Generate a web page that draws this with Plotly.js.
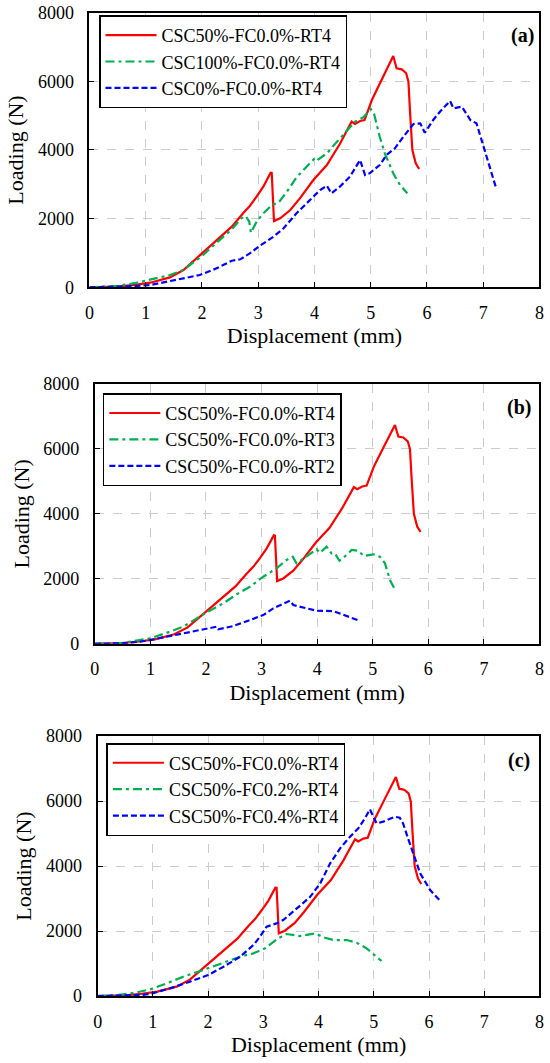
<!DOCTYPE html>
<html>
<head>
<meta charset="utf-8">
<script src="https://cdn.plot.ly/plotly-3.0.1.min.js"></script>
<style>html,body{margin:0;padding:0;background:#fff;}#chart{width:550px;height:1063px;}</style>
</head>
<body>
<div id="chart"></div>
<script>
// ---- Data ----
// Reference series CSC50%-FC0.0%-RT4 (appears in all three panels)
var refDisp = [0, 0.5, 0.8, 1.08, 1.43, 1.67, 2.0, 2.26, 2.53, 2.73, 2.85, 2.97, 3.09, 3.22, 3.24, 3.28, 3.39, 3.57, 3.74, 3.98, 4.22, 4.45, 4.66, 4.72, 4.81, 4.89, 5.02, 5.22, 5.40, 5.46, 5.55, 5.63, 5.67, 5.70, 5.74, 5.80, 5.86];
var refLoad = [0, 20, 70, 135, 290, 504, 990, 1378, 1766, 2155, 2368, 2639, 2930, 3338, 3330, 1931, 2010, 2252, 2592, 3125, 3562, 4174, 4824, 4757, 4844, 4870, 5456, 6135, 6737, 6379, 6350, 6234, 5990, 5068, 3999, 3612, 3446];

// Panel (a): CSC100%-FC0.0%-RT4
var aGreenDisp = [0, 0.5, 0.8, 1.08, 1.43, 1.67, 2.0, 2.26, 2.53, 2.70, 2.78, 2.84, 2.87, 2.97, 3.09, 3.24, 3.36, 3.51, 3.68, 3.86, 4.02, 4.07, 4.22, 4.40, 4.57, 4.72, 4.87, 5.0, 5.06, 5.16, 5.25, 5.40, 5.52, 5.65];
var aGreenLoad = [0, 40, 120, 233, 358, 504, 912, 1300, 1689, 2010, 2077, 1911, 1590, 1911, 2155, 2397, 2465, 2785, 3204, 3513, 3787, 3728, 3903, 4241, 4562, 4824, 4952, 5193, 5048, 4387, 3903, 3321, 2980, 2738];
// Panel (a): CSC0%-FC0.0%-RT4
var aBlueDisp = [0, 0.5, 0.8, 1.08, 1.55, 1.96, 2.26, 2.53, 2.68, 2.85, 3.03, 3.27, 3.45, 3.68, 3.92, 4.10, 4.22, 4.30, 4.45, 4.63, 4.81, 4.90, 4.98, 5.16, 5.28, 5.43, 5.58, 5.76, 5.88, 5.96, 6.11, 6.23, 6.41, 6.47, 6.62, 6.77, 6.88, 7.02, 7.14, 7.23];
var aBlueLoad = [0, 10, 35, 67, 233, 358, 553, 775, 816, 990, 1212, 1474, 1719, 2155, 2543, 2834, 2960, 2738, 2930, 3222, 3708, 3271, 3321, 3562, 3854, 4049, 4387, 4757, 4777, 4504, 4873, 5115, 5427, 5214, 5261, 4873, 4777, 4000, 3320, 2883];

// Panel (b): CSC50%-FC0.0%-RT3
var bGreenDisp = [0, 0.5, 0.8, 0.99, 1.35, 1.59, 1.98, 2.31, 2.58, 2.79, 3.03, 3.27, 3.45, 3.56, 3.63, 3.81, 3.99, 4.05, 4.17, 4.26, 4.32, 4.40, 4.53, 4.62, 4.74, 4.84, 5.01, 5.13, 5.22, 5.31, 5.41];
var bGreenLoad = [0, 30, 110, 166, 370, 524, 936, 1245, 1553, 1756, 2064, 2323, 2579, 2680, 2476, 2702, 2908, 2800, 2988, 2783, 2783, 2557, 2733, 2887, 2865, 2700, 2754, 2680, 2476, 1962, 1633];
// Panel (b): CSC50%-FC0.0%-RT2
var bBlueDisp = [0, 0.5, 0.8, 0.99, 1.59, 1.98, 2.19, 2.22, 2.49, 2.79, 3.03, 3.21, 3.39, 3.51, 3.57, 3.75, 3.99, 4.29, 4.47, 4.76];
var bBlueLoad = [0, 15, 60, 114, 320, 443, 524, 443, 545, 730, 884, 1090, 1223, 1325, 1192, 1121, 1017, 1007, 884, 709];

// Panel (c): CSC50%-FC0.2%-RT4
var cGreenDisp = [0, 0.4, 0.7, 0.95, 1.25, 1.55, 1.91, 2.28, 2.58, 2.82, 3.03, 3.27, 3.42, 3.66, 3.94, 4.09, 4.27, 4.51, 4.69, 4.87, 5.02, 5.14];
var cGreenLoad = [0, 40, 110, 205, 390, 594, 800, 1025, 1210, 1313, 1467, 1775, 1908, 1846, 1928, 1806, 1723, 1723, 1641, 1467, 1262, 1077];
// Panel (c): CSC50%-FC0.4%-RT4
var cBlueDisp = [0, 0.5, 0.8, 0.95, 1.31, 1.67, 2.0, 2.28, 2.58, 2.82, 2.94, 3.06, 3.24, 3.36, 3.60, 3.84, 4.03, 4.21, 4.39, 4.57, 4.72, 4.84, 4.93, 4.99, 5.05, 5.17, 5.38, 5.47, 5.53, 5.62, 5.72, 5.84, 6.02, 6.20];
var cBlueLoad = [0, 10, 35, 62, 236, 441, 646, 903, 1210, 1569, 1826, 2133, 2236, 2338, 2697, 3036, 3467, 4082, 4544, 4903, 5159, 5467, 5744, 5517, 5313, 5364, 5517, 5487, 5313, 4852, 4338, 3774, 3262, 2930];

var namesA = ['CSC50%-FC0.0%-RT4', 'CSC100%-FC0.0%-RT4', 'CSC0%-FC0.0%-RT4'];
var namesB = ['CSC50%-FC0.0%-RT4', 'CSC50%-FC0.0%-RT3', 'CSC50%-FC0.0%-RT2'];
var namesC = ['CSC50%-FC0.0%-RT4', 'CSC50%-FC0.2%-RT4', 'CSC50%-FC0.4%-RT4'];
var panelLabels = ['(a)', '(b)', '(c)'];
var xTickVals = [0, 1, 2, 3, 4, 5, 6, 7, 8];
var yTickVals = [0, 2000, 4000, 6000, 8000];
var xTitle = 'Displacement (mm)';
var yTitle = 'Loading (N)';

// ---- Styles ----
var FONT = 'Liberation Serif, Times New Roman, serif';
var RED = '#ff0000', GREEN = '#00b050', BLUE = '#0000ff';
var redLine = {color: RED, width: 2.2, dash: 'solid'};
var greenLine = {color: GREEN, width: 2.2, dash: '9px,4px,3px,4px'};
var blueLine = {color: BLUE, width: 2.2, dash: '6px,3px'};

function tr(x, y, name, line, n) {
  var sfx = n === 1 ? '' : String(n);
  return {x: x, y: y, name: name, type: 'scatter', mode: 'lines', line: line,
          xaxis: 'x' + sfx, yaxis: 'y' + sfx, legend: 'legend' + sfx, hoverinfo: 'skip'};
}

var data = [
  tr(refDisp, refLoad, namesA[0], redLine, 1),
  tr(aGreenDisp, aGreenLoad, namesA[1], greenLine, 1),
  tr(aBlueDisp, aBlueLoad, namesA[2], blueLine, 1),
  tr(refDisp, refLoad, namesB[0], redLine, 2),
  tr(bGreenDisp, bGreenLoad, namesB[1], greenLine, 2),
  tr(bBlueDisp, bBlueLoad, namesB[2], blueLine, 2),
  tr(refDisp, refLoad, namesC[0], redLine, 3),
  tr(cGreenDisp, cGreenLoad, namesC[1], greenLine, 3),
  tr(cBlueDisp, cBlueLoad, namesC[2], blueLine, 3)
];

function xax(dom, anchor) {
  return {domain: dom, anchor: anchor, range: [0, 8], tickvals: xTickVals, ticks: 'inside', ticklen: 5,
    tickcolor: '#000', tickwidth: 1, showline: true, mirror: true, linecolor: '#000', linewidth: 2,
    showgrid: true, gridcolor: '#cccccc', gridwidth: 1, griddash: 'dash', zeroline: false,
    tickfont: {family: FONT, size: 18, color: '#000'}, ticklabelstandoff: 8,
    title: {text: xTitle, font: {family: FONT, size: 22, color: '#000'}, standoff: 6}, fixedrange: true};
}
function yax(dom, anchor) {
  return {domain: dom, anchor: anchor, range: [0, 8000], tickvals: yTickVals, ticks: 'inside', ticklen: 5,
    tickcolor: '#000', tickwidth: 1, showline: true, mirror: true, linecolor: '#000', linewidth: 2,
    showgrid: true, gridcolor: '#cccccc', gridwidth: 1, griddash: 'dash', zeroline: false,
    tickfont: {family: FONT, size: 18, color: '#000'}, ticklabelstandoff: 10,
    title: {text: yTitle, font: {family: FONT, size: 22, color: '#000'}, standoff: 8}, fixedrange: true};
}
function leg(x, y) {
  return {x: x, y: y, xref: 'paper', yref: 'paper', xanchor: 'left', yanchor: 'top',
    bgcolor: '#fff', bordercolor: '#000', borderwidth: 1.5, itemwidth: 51,
    font: {family: FONT, size: 18, color: '#000'}, tracegroupgap: 0};
}
function lab(text, x, y) {
  return {text: '<b>' + text + '</b>', x: x, y: y, xref: 'paper', yref: 'paper', xanchor: 'right',
    yanchor: 'middle', showarrow: false, font: {family: FONT, size: 20, color: '#000'}};
}

var layout = {
  width: 550, height: 1063,
  margin: {l: 0, r: 0, t: 0, b: 0},
  paper_bgcolor: '#fff', plot_bgcolor: '#fff',
  showlegend: true,
  xaxis: xax([0.1627, 0.9809], 'y'),
  yaxis: yax([0.7297, 0.9881], 'x'),
  xaxis2: xax([0.1724, 0.9809], 'y2'),
  yaxis2: yax([0.3944, 0.6388], 'x2'),
  xaxis3: xax([0.1775, 0.9809], 'y3'),
  yaxis3: yax([0.0630, 0.3076], 'x3'),
  legend: leg(0.180, 0.9855),
  legend2: leg(0.187, 0.6300),
  legend3: leg(0.1935, 0.3010),
  annotations: [
    lab(panelLabels[0], 0.975, 0.9666),
    lab(panelLabels[1], 0.9687, 0.6166),
    lab(panelLabels[2], 0.967, 0.2843)
  ]
};

Plotly.newPlot('chart', data, layout, {staticPlot: true, displayModeBar: false});
</script>
</body>
</html>
